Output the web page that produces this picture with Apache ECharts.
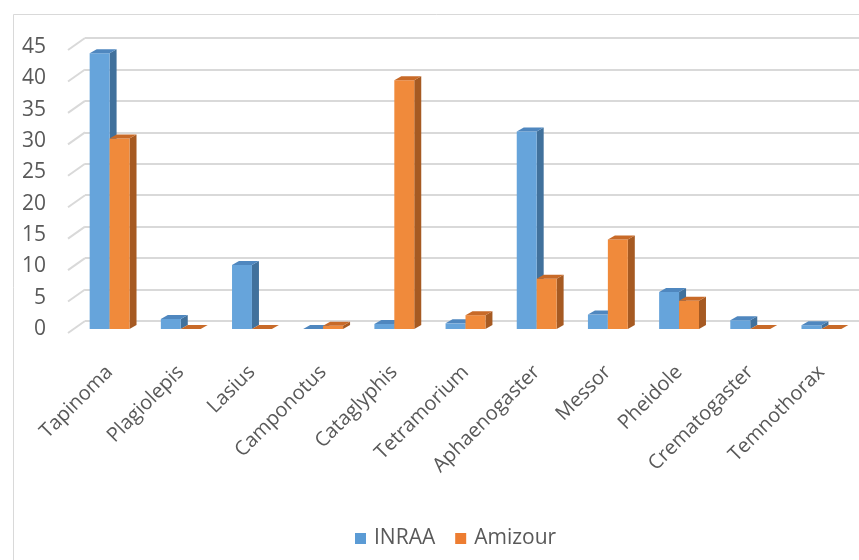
<!DOCTYPE html>
<html>
<head>
<meta charset="utf-8">
<script src="https://cdn.jsdelivr.net/npm/echarts@6/dist/echarts.min.js"></script>
<style>
html,body{margin:0;padding:0;background:#fff;}
#c{width:859px;height:560px;}
</style>
</head>
<body>
<div id="c"></div>
<script>
const categories = ['Tapinoma','Plagiolepis','Lasius','Camponotus','Cataglyphis','Tetramorium','Aphaenogaster','Messor','Pheidole','Crematogaster','Temnothorax'];
const inraa   = [44, 1.6, 10.2, 0, 0.8, 0.9, 31.5, 2.3, 5.9, 1.4, 0.6];
const amizour = [30.4, 0, 0, 0.5, 39.7, 2.2, 8, 14.3, 4.5, 0, 0];
const yTicks = [0, 5, 10, 15, 20, 25, 30, 35, 40, 45];
const seriesNames = ['INRAA', 'Amizour'];

const FONT = 'Open Sans';
const TXT = '#595959';
const palettes = [
  {front:'#66A4DB', side:'#41719C', top:'#4F87BF'},
  {front:'#F08A3B', side:'#A65A22', top:'#C86A28'}
];

function barRenderer(si) {
  return function (params, api) {
    const idx = api.value(0), v = api.value(1);
    const base = api.coord([idx, 0]);
    const top = api.coord([idx, v]);
    const band = api.size([1, 0])[0];
    const w = band * 0.28;
    const cx = base[0];
    const x0 = si === 0 ? cx - w : cx;
    const x1 = x0 + w;
    const dx = 7, dy = -4;
    const p = palettes[si];
    return {
      type: 'group',
      children: [
        {type:'polygon', shape:{points:[[x1, top[1]],[x1+dx, top[1]+dy],[x1+dx, base[1]+dy],[x1, base[1]]]}, style:{fill:p.side}},
        {type:'rect', shape:{x:x0, y:top[1], width:w, height:base[1]-top[1]}, style:{fill:p.front}},
        {type:'polygon', shape:{points:[[x0, top[1]],[x0+dx, top[1]+dy],[x1+dx, top[1]+dy],[x1, top[1]]]}, style:{fill:p.top}}
      ]
    };
  };
}

const chart = echarts.init(document.getElementById('c'));
chart.setOption({
  backgroundColor: '#fff',
  animation: false,
  graphic: [{
    type:'rect', left: 11, top: 12, shape:{width: 900, height: 600},
    style:{fill:'none', stroke:'#d9d9d9', lineWidth:1}, silent:true, z:-10
  }],
  legend: {
    bottom: 6, left: 350,
    icon: 'rect', itemWidth: 11, itemHeight: 11, itemGap: 20,
    textStyle: {fontFamily: FONT, fontSize: 21, color: TXT, padding:[0,0,0,3]},
    data: seriesNames
  },
  grid: [
    {left: 74, right: 2, top: 47, bottom: 231},
    {left: 85, right: 0, top: 38, bottom: 239}
  ],
  xAxis: [
    {type:'category', gridIndex:0, data: categories,
     axisLine:{show:false}, axisTick:{show:false},
     axisLabel:{rotate:45, margin:40, interval:0, fontFamily:FONT, fontSize:20, color:TXT}},
    {type:'value', gridIndex:1, min:0, max:1, show:false}
  ],
  yAxis: [
    {type:'value', gridIndex:0, min:0, max:45, interval:5,
     axisLine:{show:false}, axisTick:{show:false}, splitLine:{show:false},
     axisLabel:{margin:28, fontFamily:FONT, fontSize:21, color:TXT}},
    {type:'value', gridIndex:1, min:0, max:45, interval:5,
     axisLine:{show:false}, axisTick:{show:false}, axisLabel:{show:false},
     splitLine:{show:true, lineStyle:{color:'#d9d9d9', width:2}}}
  ],
  series: [
    {
      name: 'walls', type: 'custom', xAxisIndex: 1, yAxisIndex: 1, silent: true, z: 1,
      data: yTicks.map(t => [0, t]),
      renderItem: function (params, api) {
        const p = api.coord([0, api.value(1)]);
        return {type:'line', shape:{x1:p[0], y1:p[1], x2:p[0]-17, y2:p[1]+12},
                style:{stroke:'#d9d9d9', lineWidth:2}};
      }
    },
    {
      name: seriesNames[0], type: 'custom', xAxisIndex: 0, yAxisIndex: 0, z: 3,
      itemStyle: {color: '#5B9BD5'},
      data: inraa.map((v, i) => [i, v]),
      renderItem: barRenderer(0)
    },
    {
      name: seriesNames[1], type: 'custom', xAxisIndex: 0, yAxisIndex: 0, z: 4,
      itemStyle: {color: '#ED7D31'},
      data: amizour.map((v, i) => [i, v]),
      renderItem: barRenderer(1)
    }
  ]
});
</script>
</body>
</html>
